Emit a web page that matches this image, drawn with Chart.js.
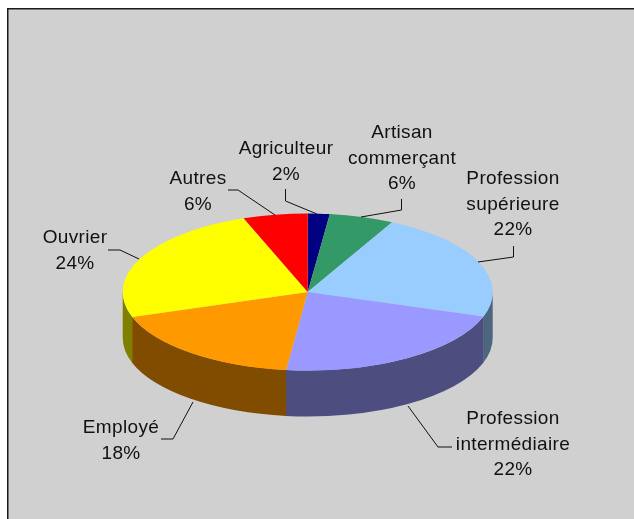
<!DOCTYPE html>
<html>
<head>
<meta charset="utf-8">
<script src="https://cdn.jsdelivr.net/npm/chart.js@4"></script>
<style>
html,body{margin:0;padding:0;background:#fff;overflow:hidden}
canvas{display:block}
</style>
</head>
<body>
<canvas id="c" width="634" height="519"></canvas>
<script>
const categories = ["Agriculteur", "Artisan commerçant", "Profession supérieure", "Profession intermédiaire", "Employé", "Ouvrier", "Autres"];
const values = [1.9, 5.6, 22.4, 21.7, 17.9, 24.4, 5.6];
const percentLabels = ["2%", "6%", "22%", "22%", "18%", "24%", "6%"];
const sliceColors = ["#000080", "#339966", "#99CCFF", "#9999FF", "#FF9900", "#FFFF00", "#FF0000"];
const wallColors = ["#000040", "#1A4D33", "#4D6680", "#4D4D80", "#804D00", "#808000", "#800000"];
const labelLines = [["Agriculteur"], ["Artisan", "commerçant"], ["Profession", "supérieure"], ["Profession", "intermédiaire"], ["Employé"], ["Ouvrier"], ["Autres"]];

const SQUASH = 78.5 / 185, DEPTH = 46, BG = "#D0D0D0", INK = "#111111";
const labelLayout = [
  {x: 286, y: 154, leader: [[285.5,189],[285.5,201],[317,214]]},
  {x: 402, y: 138, leader: [[401.5,199],[401.5,210],[361,217]]},
  {x: 513, y: 184, leader: [[513.5,246],[513.5,257],[478,262]]},
  {x: 513, y: 424, leader: [[408,406],[438,447],[452,447]]},
  {x: 121, y: 433, leader: [[161,439],[173,439],[193,402]]},
  {x: 75,  y: 243, leader: [[108,250],[120,250],[139,259]]},
  {x: 198, y: 184, leader: [[228,190],[238,190],[275,215]]}
];

const scene = {
  id: "scene",
  beforeDraw(chart) {
    const c = chart.ctx;
    c.save();
    c.fillStyle = "#fff";
    c.fillRect(0, 0, chart.width, chart.height);
    c.fillStyle = BG;
    c.fillRect(8, 9, chart.width, chart.height);
    c.fillStyle = "#1a1a1a";
    c.fillRect(7, 8, chart.width, 1.5);
    c.fillRect(7, 8, 1.5, chart.height);
    c.restore();
  },
  beforeDatasetsDraw(chart) {
    const c = chart.ctx, arcs = chart.getDatasetMeta(0).data;
    const {x, y} = arcs[0];
    // Front wall of each slice, taken from the arc element's own angles and radius.
    arcs.forEach((arc, i) => {
      const a0 = Math.max(arc.startAngle, 0);
      const a1 = Math.min(arc.endAngle, Math.PI);
      if (a1 <= a0) return;
      const rx = arc.outerRadius, ry = rx * SQUASH;
      const end = Math.min(a1 + 0.004, Math.PI);
      c.beginPath();
      c.ellipse(x, y, rx, ry, 0, a0, end);
      c.ellipse(x, y + DEPTH, rx, ry, 0, end, a0, true);
      c.closePath();
      c.fillStyle = wallColors[i];
      c.fill();
    });
    c.save();
    c.translate(x, y);
    c.scale(1, SQUASH);
    c.translate(-x, -y);
  },
  afterDatasetsDraw(chart) {
    const c = chart.ctx;
    c.restore();
    c.save();
    c.strokeStyle = INK;
    c.lineWidth = 1;
    labelLayout.forEach(l => {
      c.beginPath();
      l.leader.forEach((p, k) => k ? c.lineTo(p[0], p[1]) : c.moveTo(p[0], p[1]));
      c.stroke();
    });
    c.fillStyle = INK;
    c.font = '19px "Liberation Sans"';
    c.letterSpacing = "0.35px";
    c.textAlign = "center";
    c.textBaseline = "alphabetic";
    labelLayout.forEach((l, i) => {
      const rows = labelLines[i].concat(percentLabels[i]);
      rows.forEach((t, k) => c.fillText(t, l.x, l.y + k * 25.6));
    });
    c.restore();
  }
};

new Chart(document.getElementById("c"), {
  type: "pie",
  data: {
    labels: categories,
    datasets: [{data: values, backgroundColor: sliceColors, borderWidth: 0, clip: false}]
  },
  options: {
    responsive: false,
    animation: false,
    layout: {padding: {left: 122.7, right: 141.3, top: 107, bottom: 42}},
    plugins: {legend: {display: false}, tooltip: {enabled: false}, title: {display: false}}
  },
  plugins: [scene]
});
</script>
</body>
</html>
